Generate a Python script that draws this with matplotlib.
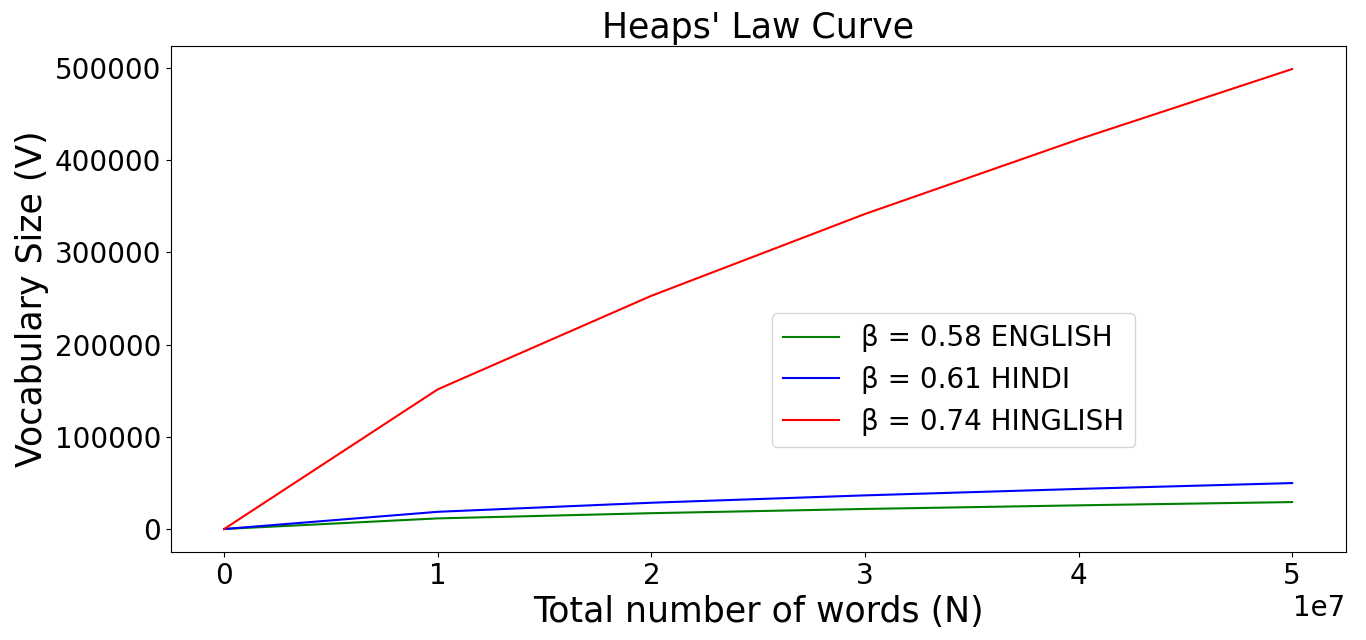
import matplotlib
matplotlib.use("Agg")
import matplotlib.pyplot as plt

# total words N
n_words = [0, 1e7, 2e7, 3e7, 4e7, 5e7]

# vocabulary size
vocab_english = [0, 11500, 17150, 21740, 25660, 29200]
vocab_hindi = [0, 18640, 28480, 36460, 43450, 49800]
vocab_hinglish = [0, 151400, 252800, 341500, 422400, 498600]

labels = [
    "β = 0.58 ENGLISH",
    "β = 0.61 HINDI",
    "β = 0.74 HINGLISH",
]

fig, ax = plt.subplots(figsize=(13.66, 6.4), dpi=100)

ax.plot(n_words, vocab_english, color="green", label=labels[0])
ax.plot(n_words, vocab_hindi, color="blue", label=labels[1])
ax.plot(n_words, vocab_hinglish, color="red", label=labels[2])

ax.set_title("Heaps' Law Curve", fontsize=25)
ax.set_xlabel("Total number of words (N)", fontsize=25)
ax.set_ylabel("Vocabulary Size (V)", fontsize=25)
ax.tick_params(labelsize=20)
ax.xaxis.get_offset_text().set_fontsize(20)

ax.legend(
    fontsize=20,
    loc="upper left",
    bbox_to_anchor=(0.512, 0.472),
    borderaxespad=0
)

plt.subplots_adjust(left=0.125, right=0.985, top=0.928, bottom=0.1375)

plt.savefig("out.png")
plt.close()
